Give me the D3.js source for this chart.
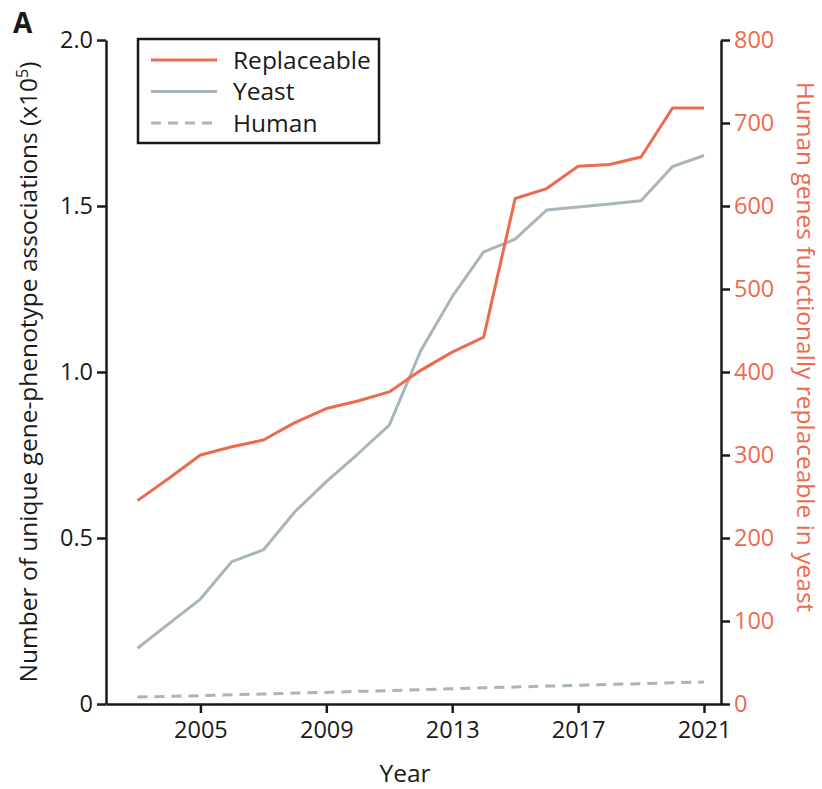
<!DOCTYPE html>
<html>
<head>
<meta charset="utf-8">
<script src="https://cdn.jsdelivr.net/npm/d3@7"></script>
<style>
  html, body { margin: 0; padding: 0; background: #fff; }
  svg text { font-family: "Open Sans", Lato, sans-serif; }
</style>
</head>
<body>
<svg id="chart" width="822" height="789"></svg>
<script>
// Years of observation
const years = [2003, 2004, 2005, 2006, 2007, 2008, 2009, 2010, 2011, 2012,
               2013, 2014, 2015, 2016, 2017, 2018, 2019, 2020, 2021];

// Human genes functionally replaceable in yeast (right axis)
const replaceable = [245, 272, 300, 310, 318, 339, 356, 365, 376, 402,
                     424, 442, 609, 621, 648, 650, 659, 718, 718];

// Unique gene-phenotype associations, x10^5 (left axis)
const yeast = [0.168, 0.242, 0.316, 0.429, 0.464, 0.579, 0.670, 0.753, 0.840, 1.064,
               1.227, 1.362, 1.400, 1.488, 1.497, 1.506, 1.516, 1.619, 1.652];
const human = [0.021, 0.023, 0.025, 0.028, 0.030, 0.033, 0.035, 0.038, 0.040, 0.043,
               0.046, 0.049, 0.051, 0.054, 0.056, 0.059, 0.061, 0.064, 0.066];

const xTicks = [2005, 2009, 2013, 2017, 2021];
const leftTicks = [0, 0.5, 1.0, 1.5, 2.0];
const rightTicks = [0, 100, 200, 300, 400, 500, 600, 700, 800];

const RED = "#ee6a4f";
const GREY = "#a8b5bb";
const INK = "#1a1a1a";
const FS = "23.5px";     // tick labels
const FT = "24.5px";     // titles and legend

const svg = d3.select("#chart");

const x = d3.scaleLinear().domain([2002, 2021.54]).range([106, 721]);
const yLeft = d3.scaleLinear().domain([0, 2.0]).range([704, 40]);
const yRight = d3.scaleLinear().domain([0, 800]).range([704, 40]);

// Axes
function styleAxis(g, textColor) {
  g.selectAll("path.domain").attr("stroke", INK).attr("stroke-width", 2.5);
  g.selectAll(".tick line").attr("stroke", INK).attr("stroke-width", 2.5);
  g.selectAll(".tick text")
    .attr("fill", textColor)
    .style("font-size", FS)
    .style("font-family", "'Open Sans', Lato, sans-serif");
}

const gx = svg.append("g")
  .attr("transform", "translate(0,704)")
  .call(d3.axisBottom(x).tickValues(xTicks).tickFormat(d3.format("d"))
        .tickSize(9).tickSizeOuter(0).tickPadding(8));
styleAxis(gx, INK);

const gl = svg.append("g")
  .attr("transform", "translate(106,0)")
  .call(d3.axisLeft(yLeft).tickValues(leftTicks)
        .tickFormat(d => d === 0 ? "0" : d3.format(".1f")(d))
        .tickSize(9).tickSizeOuter(0).tickPadding(4));
styleAxis(gl, INK);

const gr = svg.append("g")
  .attr("transform", "translate(721,0)")
  .call(d3.axisRight(yRight).tickValues(rightTicks).tickFormat(d3.format("d"))
        .tickSize(9).tickSizeOuter(0).tickPadding(4));
styleAxis(gr, RED);

// Series lines
const lineLeft = vals => d3.line().x((d, i) => x(years[i])).y(d => yLeft(d))(vals);
const lineRight = vals => d3.line().x((d, i) => x(years[i])).y(d => yRight(d))(vals);

svg.append("path")
  .attr("d", lineLeft(human))
  .attr("fill", "none").attr("stroke", GREY).attr("stroke-width", 3)
  .attr("stroke-dasharray", "10,7");

svg.append("path")
  .attr("d", lineLeft(yeast))
  .attr("fill", "none").attr("stroke", GREY).attr("stroke-width", 3)
  .attr("stroke-linejoin", "round");

svg.append("path")
  .attr("d", lineRight(replaceable))
  .attr("fill", "none").attr("stroke", RED).attr("stroke-width", 3)
  .attr("stroke-linejoin", "round");

// Axis titles
svg.append("text")
  .attr("x", 405).attr("y", 782)
  .attr("text-anchor", "middle")
  .attr("fill", INK)
  .style("font-size", FT)
  .text("Year");

const leftTitle = svg.append("text")
  .attr("transform", "translate(37,372) rotate(-90)")
  .attr("text-anchor", "middle")
  .attr("fill", INK)
  .style("font-size", FT);
leftTitle.append("tspan").text("Number of unique gene-phenotype associations (x10");
leftTitle.append("tspan").attr("dy", -9).style("font-size", "16px").text("5");
leftTitle.append("tspan").attr("dy", 9).text(")");

svg.append("text")
  .attr("transform", "translate(797,347) rotate(90)")
  .attr("text-anchor", "middle")
  .attr("fill", RED)
  .style("font-size", FT)
  .text("Human genes functionally replaceable in yeast");

// Panel letter
svg.append("text")
  .attr("x", 13).attr("y", 33)
  .attr("fill", INK)
  .style("font-size", "28px")
  .style("font-weight", "bold")
  .text("A");

// Legend
const legendItems = [
  { label: "Replaceable", color: RED, dash: null },
  { label: "Yeast", color: GREY, dash: null },
  { label: "Human", color: GREY, dash: "10,7" }
];
const legend = svg.append("g").attr("transform", "translate(138,39)");
legend.append("rect")
  .attr("width", 241).attr("height", 104)
  .attr("fill", "#fff").attr("stroke", INK).attr("stroke-width", 2.5);
legendItems.forEach((d, i) => {
  const yy = 21 + i * 31.5;
  legend.append("line")
    .attr("x1", 13).attr("x2", 79).attr("y1", yy).attr("y2", yy)
    .attr("stroke", d.color).attr("stroke-width", 3)
    .attr("stroke-dasharray", d.dash);
  legend.append("text")
    .attr("x", 95).attr("y", yy + 8.5)
    .attr("fill", INK)
    .style("font-size", FT)
    .text(d.label);
});
</script>
</body>
</html>
